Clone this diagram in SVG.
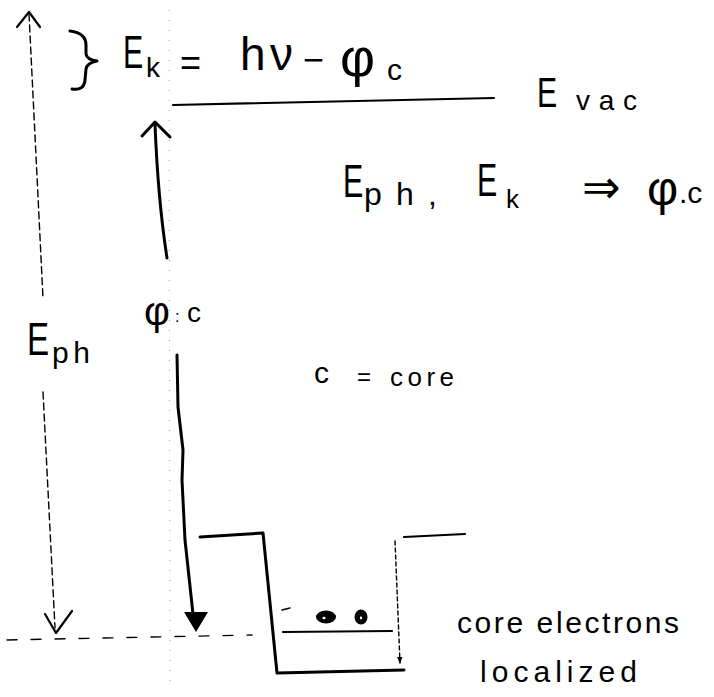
<svg xmlns="http://www.w3.org/2000/svg" width="714" height="697" viewBox="0 0 714 697">
<defs>
<style>
text{font-family:"Liberation Sans",Arial,sans-serif;fill:#000}
.sym{font-family:"DejaVu Sans",sans-serif}
.ln{fill:none;stroke:#000;stroke-linecap:round;stroke-linejoin:round}
.thick{stroke-width:3}
.mid{stroke-width:2.2}
.dash{stroke-width:1.4;stroke-dasharray:7 4}
.faint{fill:none;stroke:#9a9a9a;stroke-width:1;stroke-dasharray:1 9}
</style>
<marker id="tip" viewBox="0 0 10 10" refX="9" refY="5" markerWidth="5" markerHeight="5" orient="auto">
<path d="M0,1 L10,5 L0,9 z" fill="#000"/>
</marker>
</defs>
<rect width="714" height="697" fill="#fff"/>

<g id="guides">
<path class="faint" d="M169,10 L170,682"/>
</g>

<g id="connectors">
<path id="eph-span-top" class="ln dash" d="M29,14 L43,298"/>
<path id="eph-span-bottom" class="ln dash" d="M43,392 L55,628"/>
<polyline class="ln mid" points="17,27 29,12 40,27"/>
<polyline class="ln mid" points="45,614 56,633 72,611"/>
<path class="ln dash" d="M7,640 L252,635" style="stroke-dasharray:10 14"/>
<path id="up-arrow" class="ln thick" d="M155,124 Q158,200 167,258"/>
<polyline class="ln thick" points="142,136 155,122 170,137"/>
<path id="down-arrow" class="ln thick" d="M177,355 L178,407 L183,450 L182,480 L185,540 L193,614"/>
<path d="M184,612 L208,612 L196,632 z" fill="#000"/>
</g>

<g id="vacuum-level">
<path class="ln mid" d="M173,105 L494,98"/>
<text font-size="42" transform="translate(537,107) scale(0.72,1)">E</text>
<text x="576" y="110" font-size="28" textLength="61" lengthAdjust="spacing">vac</text>
</g>

<g id="ek-equation">
<path class="ln thick" d="M70,31 Q86,33 86,45 L86,54 Q87,60 97,61 Q87,63 86,69 L85,80 Q84,91 72,89"/>
<text font-size="46" transform="translate(123,68) scale(0.66,1)">E</text>
<text x="146" y="77" font-size="28">k</text>
<text x="180" y="75" font-size="36">=</text>
<text x="240" y="70" font-size="46">h</text>
<text x="270" y="70" font-size="46">ν</text>
<text x="303" y="72" font-size="36">−</text>
<text x="340" y="76" font-size="54">φ</text>
<text x="387" y="80" font-size="30">c</text>
</g>

<g id="inference">
<text font-size="46" transform="translate(343,197) scale(0.66,1)">E</text>
<text x="364" y="205" font-size="32" textLength="73" lengthAdjust="spacing">ph,</text>
<text font-size="46" transform="translate(477,196) scale(0.66,1)">E</text>
<text x="506" y="208" font-size="26">k</text>
<text class="sym" x="582" y="203" font-size="46">⇒</text>
<text x="647" y="205" font-size="48">φ</text>
<text x="679" y="203" font-size="30">.c</text>
</g>

<g id="eph-label">
<text font-size="46" transform="translate(27,355) scale(0.72,1)">E</text>
<text x="52" y="363" font-size="30" textLength="38" lengthAdjust="spacing">ph</text>
</g>

<g id="phic-label">
<text x="144" y="325" font-size="40">φ</text>
<text x="175" y="322" font-size="16" fill="#555">:</text>
<text x="187" y="322" font-size="28">c</text>
</g>

<g id="c-core">
<text x="314" y="383" font-size="30">c</text>
<text x="357" y="385" font-size="24">=</text>
<text x="390" y="386" font-size="26" textLength="64" lengthAdjust="spacing">core</text>
</g>

<g id="core-well">
<polyline class="ln thick" points="200,537 263,533 277,673 404,670"/>
<path class="ln mid" d="M404,537 L465,534"/>
<path class="ln" d="M395,541 L400,663" style="stroke-width:1.4;stroke-dasharray:4 3" marker-end="url(#tip)"/>
<path class="ln mid" d="M283,632 L392,631"/>
<path class="ln" style="stroke-width:1.5" d="M282,610 L290,608"/>
<ellipse cx="326" cy="617" rx="10" ry="6.5" fill="#000"/>
<ellipse cx="324" cy="618" rx="1.6" ry="1.2" fill="#fff"/>
<ellipse cx="361" cy="617" rx="6.5" ry="7.5" fill="#000"/>
<ellipse cx="361" cy="618" rx="1.2" ry="1.4" fill="#fff"/>
</g>

<g id="core-electrons-label">
<text x="457" y="633" font-size="30" textLength="222" lengthAdjust="spacing">core electrons</text>
<text x="480" y="682" font-size="30" textLength="157" lengthAdjust="spacing">localized</text>
</g>
</svg>
